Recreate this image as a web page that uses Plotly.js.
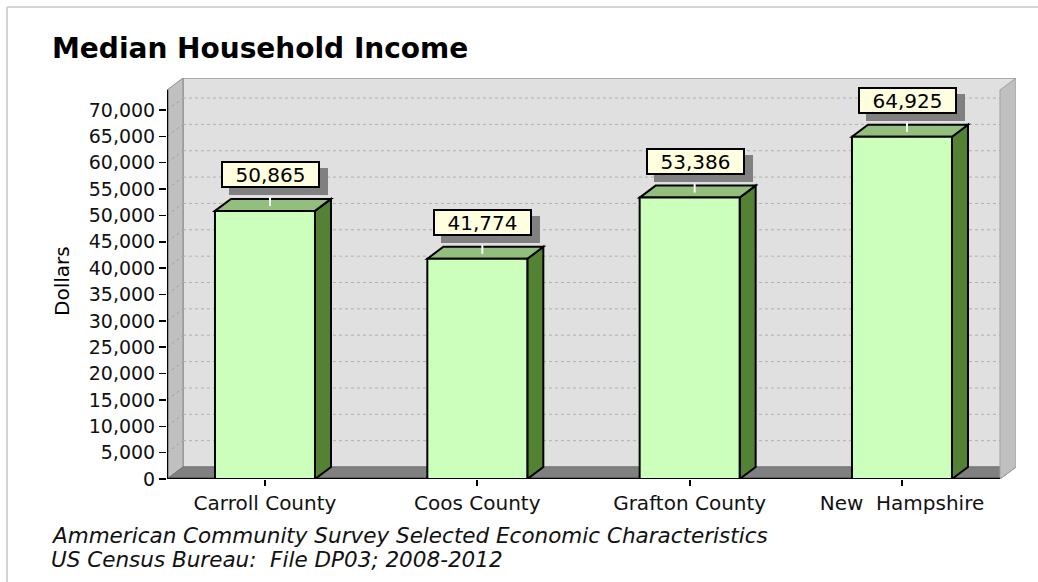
<!DOCTYPE html>
<html><head><meta charset="utf-8">
<script src="https://cdn.plot.ly/plotly-3.0.1.min.js"></script>
<style>html,body{margin:0;padding:0;background:#fff;} #chart{width:1038px;height:582px;}</style>
</head><body><div id="chart"></div>
<script>
// ---- data ----
const categories = ['Carroll County', 'Coos County', 'Grafton County', 'New\u00a0\u00a0Hampshire'];
const incomes = [50865, 41774, 53386, 64925];
const yTickValues = [0, 5000, 10000, 15000, 20000, 25000, 30000, 35000, 40000, 45000, 50000, 55000, 60000, 65000, 70000];
const titleText = 'Median Household Income';
const yAxisTitle = 'Dollars';
const sourceLines = ['Ammerican Community Survey Selected Economic Characteristics', 'US Census Bureau:\u00a0 File DP03; 2008-2012'];

// ---- geometry (pixels) ----
const W = 1038, H = 582;
const L = 167, R = 1016, T = 78, B = 479;   // plot area incl. 3D box
const FRONT_R = 1000, FRONT_T = 90;
const DX = 16, DY = 12;                     // 3D depth offset
const XMIN = -0.4615, XMAX = 3.537;
const YMAX = 76077;
const pxPerX = (R - L) / (XMAX - XMIN);
const pxPerY = (B - T) / YMAX;
const px2x = p => XMIN + (p - L) / pxPerX;
const px2y = p => (B - p) / pxPerY;
const pxp = p => (p - L) / (R - L);
const pyp = p => (B - p) / (B - T);
const FONT = 'DejaVu Sans';

function poly(pts) { // pts in pixels -> data path
  return 'M' + pts.map(p => px2x(p[0]) + ',' + px2y(p[1])).join('L') + 'Z';
}
function dpoly(pts) { // pts in data coords
  return 'M' + pts.map(p => p[0] + ',' + p[1]).join('L') + 'Z';
}

const shapes = [];
// outer border (top and left edges visible)
shapes.push({type:'line', xref:'paper', yref:'paper', x0:pxp(7), x1:pxp(1100), y0:pyp(7), y1:pyp(7),
  line:{color:'#d4d4d4', width:2}, layer:'below'});
shapes.push({type:'line', xref:'paper', yref:'paper', x0:pxp(7), x1:pxp(7), y0:pyp(7), y1:pyp(640),
  line:{color:'#d4d4d4', width:2}, layer:'below'});
// back wall
shapes.push({type:'path', xref:'x', yref:'y', path:poly([[L+DX,T],[R,T],[R,B-DY],[L+DX,B-DY]]),
  fillcolor:'#e0e0e0', line:{color:'#9a9a9a', width:1.5}, layer:'below'});
// left panel
shapes.push({type:'path', xref:'x', yref:'y', path:poly([[L,FRONT_T],[L+DX,T],[L+DX,B-DY],[L,B]]),
  fillcolor:'#c0c0c0', line:{color:'#8c8c8c', width:1}, layer:'below'});
// gridlines on wall + diagonal on left panel
yTickValues.forEach(v => {
  if (v === 0) return;
  const yp = B - v * pxPerY;
  shapes.push({type:'line', xref:'x', yref:'y', x0:px2x(L+DX), x1:px2x(FRONT_R), y0:px2y(yp-DY), y1:px2y(yp-DY),
    line:{color:'#b0b0b0', width:1, dash:'dot'}, layer:'below'});
  shapes.push({type:'line', xref:'x', yref:'y', x0:px2x(L), x1:px2x(L+DX), y0:px2y(yp), y1:px2y(yp-DY),
    line:{color:'#a0a0a0', width:1, dash:'dot'}, layer:'below'});
});
// floor
shapes.push({type:'path', xref:'x', yref:'y', path:poly([[L,B],[FRONT_R,B],[R,B-DY],[L+DX,B-DY]]),
  fillcolor:'#808080', line:{color:'#707070', width:1}, layer:'below'});
// right panel
shapes.push({type:'path', xref:'x', yref:'y', path:poly([[FRONT_R,FRONT_T],[R,T],[R,B-DY],[FRONT_R,B]]),
  fillcolor:'#c0c0c0', line:{color:'#a0a0a0', width:1}, layer:'below'});
// front axis lines
shapes.push({type:'line', xref:'x', yref:'y', x0:px2x(L), x1:px2x(L), y0:px2y(B), y1:px2y(FRONT_T),
  line:{color:'#000', width:2.5}, layer:'below'});
shapes.push({type:'line', xref:'x', yref:'y', x0:px2x(L), x1:px2x(FRONT_R), y0:0, y1:0,
  line:{color:'#000', width:2.5}, layer:'below'});

// bar 3D faces
const barW = 100 / pxPerX;
const dxD = DX / pxPerX, dyD = DY / pxPerY;
incomes.forEach((v, i) => {
  const xl = i - barW/2, xr = i + barW/2;
  shapes.push({type:'path', xref:'x', yref:'y', path:dpoly([[xr,0],[xr+dxD,dyD],[xr+dxD,v+dyD],[xr,v]]),
    fillcolor:'#548235', line:{color:'#000', width:2}, layer:'below'});
  shapes.push({type:'path', xref:'x', yref:'y', path:dpoly([[xl,v],[xl+dxD,v+dyD],[xr+dxD,v+dyD],[xr,v]]),
    fillcolor:'#93bf7e', line:{color:'#000', width:2}, layer:'below'});
  shapes.push({type:'line', xref:'x', yref:'y', x0:i+5/pxPerX, x1:i+5/pxPerX, y0:v+5/pxPerY, y1:v+14/pxPerY,
    line:{color:'#fff', width:2}, layer:'below'});
});

const annotations = [];
incomes.forEach((v, i) => {
  const txt = v.toLocaleString('en-US');
  // drop shadow box
  annotations.push({x:i, y:v, xref:'x', yref:'y', xshift:5.5+8, yshift:36.5-7, text:'\u00a0', showarrow:false,
    font:{family:FONT, size:20, color:'#808080'}, bgcolor:'#808080', bordercolor:'#808080', borderwidth:2,
    width:95, height:23, borderpad:0, xanchor:'center', yanchor:'middle'});
  annotations.push({x:i, y:v, xref:'x', yref:'y', xshift:5.5, yshift:36.5, text:txt, showarrow:false,
    font:{family:FONT, size:20, color:'#000'}, bgcolor:'#ffffe0', bordercolor:'#000', borderwidth:2,
    width:95, height:23, borderpad:0, xanchor:'center', yanchor:'middle'});
});
annotations.push({xref:'paper', yref:'paper', x:pxp(62), y:pyp(281), text:yAxisTitle, textangle:-90, showarrow:false,
  font:{family:FONT, size:20, color:'#000'}, xanchor:'center', yanchor:'middle'});
sourceLines.forEach((s, k) => {
  annotations.push({xref:'paper', yref:'paper', x:pxp(49), y:pyp(535 + k*24), text:s, showarrow:false,
    font:{family:FONT, size:21.5, color:'#111', style:'italic'}, xanchor:'left', yanchor:'middle'});
});

const trace = {
  type:'bar', x:[0,1,2,3], y:incomes, width:barW,
  marker:{color:'#ccffbb', line:{color:'#000', width:2}},
  hoverinfo:'skip'
};

const layout = {
  width:W, height:H, autosize:false,
  margin:{l:L, r:W-R, t:T, b:H-B, pad:0},
  paper_bgcolor:'#fff', plot_bgcolor:'#fff',
  showlegend:false,
  title:{text:titleText, x:52/W, xanchor:'left', xref:'container', y:1-48/H, yref:'container', yanchor:'middle',
    font:{family:FONT, size:28, color:'#000', weight:'bold'}},
  xaxis:{range:[XMIN, XMAX], tickvals:[0,1,2,3], ticktext:categories, showgrid:false, zeroline:false, showline:false,
    ticks:'outside', ticklen:6, tickwidth:2, tickcolor:'#000', tickfont:{family:FONT, size:20, color:'#111'}, fixedrange:true},
  yaxis:{range:[0, YMAX], tickvals:yTickValues, ticktext:yTickValues.map(v => v.toLocaleString('en-US')),
    showgrid:false, zeroline:false, showline:false, ticks:'outside', ticklen:7, tickwidth:1.5, tickcolor:'#000',
    tickfont:{family:FONT, size:19, color:'#111'}, fixedrange:true},
  shapes:shapes, annotations:annotations
};

Plotly.newPlot('chart', [trace], layout, {staticPlot:true, displayModeBar:false});
</script></body></html>
